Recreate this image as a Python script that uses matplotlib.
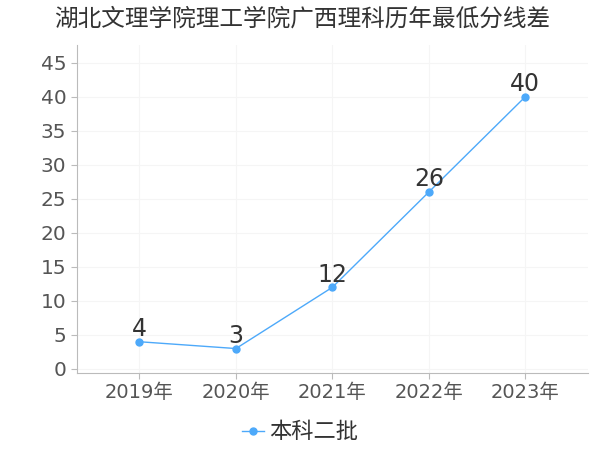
import matplotlib.pyplot as plt

plt.rcParams['font.family'] = ['DejaVu Sans', 'Noto Sans CJK SC']

years = ['2019年', '2020年', '2021年', '2022年', '2023年']
scores = [4, 3, 12, 26, 40]
yticks = [0, 5, 10, 15, 20, 25, 30, 35, 40, 45]

fig = plt.figure(figsize=(6, 4.5), dpi=100)
ax = fig.add_axes([0.128, 0.171, 0.852, 0.729])

x = range(len(years))
ax.plot(x, scores, color='#4da9fa', lw=1, marker='o', ms=5, label='本科二批')
for i, v in zip(x, scores):
    ax.text(i, v + 0.1, str(v), ha='center', va='bottom', fontsize=17, color='#333333')

ax.set_xlim(-0.65, 4.65)
ax.set_ylim(-0.6, 47.6)
ax.set_xticks(list(x))
ax.set_xticklabels(years, fontsize=14)
ax.set_yticks(yticks)
ax.tick_params(axis='y', labelsize=14.5)
ax.tick_params(colors='#bbbbbb', labelcolor='#555555', length=4)
ax.grid(True, color='#f5f5f5', lw=0.8)
for s in ['top', 'right']:
    ax.spines[s].set_visible(False)
for s in ['left', 'bottom']:
    ax.spines[s].set_color('#bbbbbb')

fig.text(0.503, 0.958, '湖北文理学院理工学院广西理科历年最低分线差', fontsize=17, color='#333333',
         ha='center', va='center', family=['Noto Sans CJK SC', 'DejaVu Sans'])
fig.legend(loc='center', bbox_to_anchor=(0.5, 0.04), frameon=False,
           handlelength=1.0, handletextpad=0.2, labelcolor='#333333',
           prop={'family': ['Noto Sans CJK SC'], 'size': 16})

fig.savefig('out.png')
